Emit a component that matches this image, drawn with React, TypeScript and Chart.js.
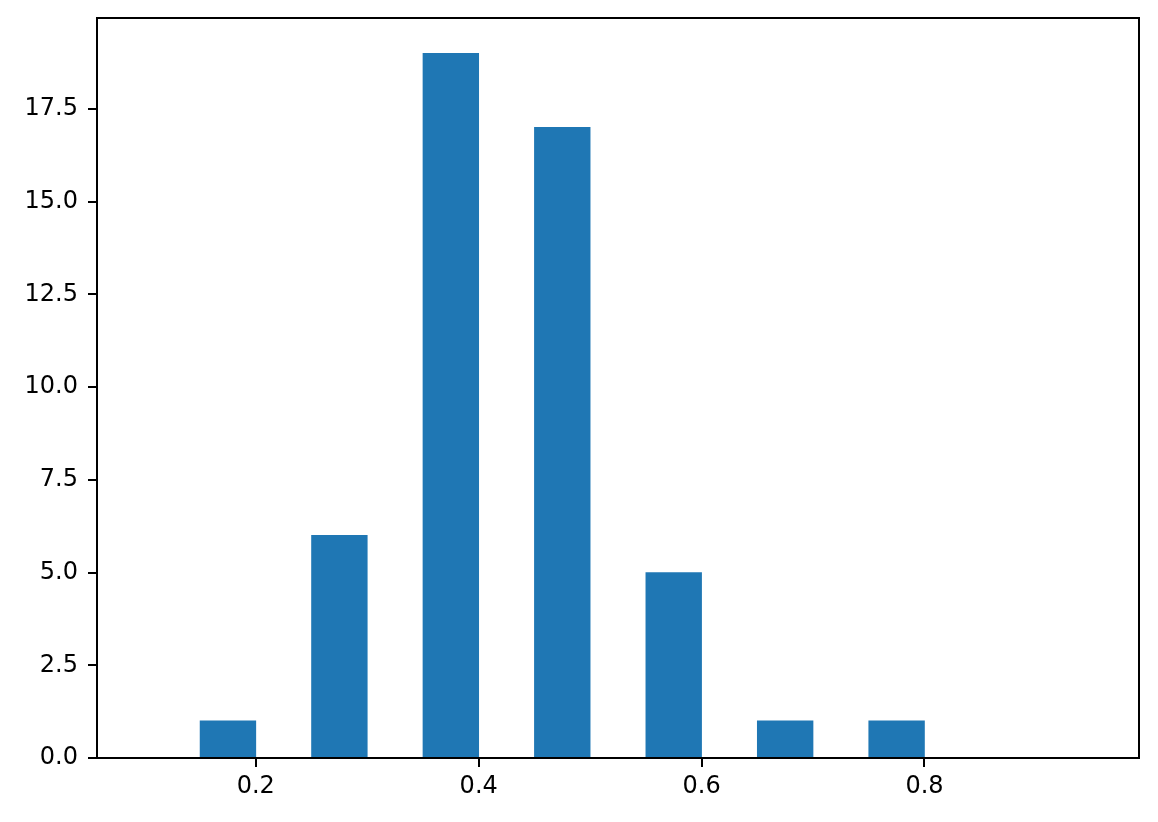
import React, { useEffect, useRef } from "react";
import { Chart, registerables } from "chart.js";

Chart.register(...registerables);

// Histogram bins (centers) and counts
const binCenters = [0.125, 0.175, 0.225, 0.275, 0.325, 0.375, 0.425, 0.475, 0.525, 0.575, 0.625, 0.675, 0.725, 0.775, 0.825, 0.875, 0.925];
const counts = [0, 1, 0, 6, 0, 19, 0, 17, 0, 5, 0, 1, 0, 1, 0, 0, 0];
const xTicks = [0.2, 0.4, 0.6, 0.8];
const yTicks = [0, 2.5, 5, 7.5, 10, 12.5, 15, 17.5];
const xMin = 0.0575;
const xMax = 0.9925;
const yMax = 19.95;

const W = 1158;
const H = 822;
const PLOT_LEFT = 97;
const PLOT_RIGHT = 1139;
const PLOT_TOP = 18;
const PLOT_BOTTOM = 758;

const framePlugin = {
  id: "frame",
  afterDraw(chart: any) {
    const { ctx, chartArea } = chart;
    ctx.save();
    ctx.strokeStyle = "#000";
    ctx.lineWidth = 2;
    ctx.strokeRect(chartArea.left, chartArea.top, chartArea.right - chartArea.left, chartArea.bottom - chartArea.top);
    ctx.restore();
  },
};

export default function App() {
  const ref = useRef<HTMLCanvasElement>(null);
  useEffect(() => {
    document.body.style.margin = "0";
    const canvas = ref.current!;
    const font = { family: "'DejaVu Sans', sans-serif", size: 24 };
    const gridCfg = { display: true, offset: false, drawOnChartArea: false, drawTicks: true, tickLength: 9, color: "#000", lineWidth: 2 };
    const chart = new Chart(canvas, {
      type: "bar",
      data: {
        datasets: [
          {
            data: binCenters.map((c, i) => ({ x: c, y: counts[i] })),
            backgroundColor: "#1f77b4",
            borderWidth: 0,
            barPercentage: 1,
            categoryPercentage: 1,
          },
        ],
      },
      options: {
        animation: false,
        responsive: false,
        maintainAspectRatio: false,
        layout: { padding: { left: 0, top: PLOT_TOP, right: W - PLOT_RIGHT, bottom: 0 } },
        plugins: { legend: { display: false }, tooltip: { enabled: false } },
        scales: {
          x: {
            type: "linear",
            min: xMin,
            max: xMax,
            offset: false,
            grid: gridCfg,
            border: { display: false },
            ticks: {
              color: "#000",
              font,
              padding: 5,
              maxRotation: 0,
              callback: (v: any) => Number(v).toFixed(1),
            },
            afterBuildTicks: (scale: any) => {
              scale.ticks = xTicks.map((v) => ({ value: v }));
            },
            afterFit: (scale: any) => {
              scale.height = H - PLOT_BOTTOM;
              scale.paddingLeft = 0;
              scale.paddingRight = 0;
            },
          },
          y: {
            type: "linear",
            min: 0,
            max: yMax,
            grid: gridCfg,
            border: { display: false },
            ticks: {
              color: "#000",
              font,
              padding: 10,
              callback: (v: any) => Number(v).toFixed(1),
            },
            afterBuildTicks: (scale: any) => {
              scale.ticks = yTicks.map((v) => ({ value: v }));
            },
            afterFit: (scale: any) => {
              scale.width = PLOT_LEFT;
              scale.paddingTop = 0;
              scale.paddingBottom = 0;
            },
          },
        },
      },
      plugins: [framePlugin],
    });
    return () => chart.destroy();
  }, []);
  return (
    <div style={{ width: W, height: H, background: "#fff" }}>
      <canvas ref={ref} width={W} height={H} style={{ display: "block", width: W, height: H }} />
    </div>
  );
}
